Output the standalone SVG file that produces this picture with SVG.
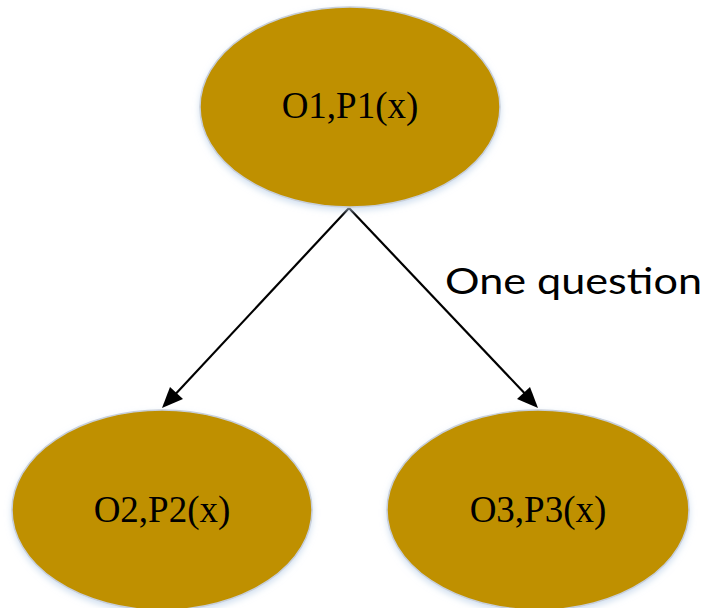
<svg xmlns="http://www.w3.org/2000/svg" width="708" height="608" viewBox="0 0 708 608">
  <style>
    .node ellipse { fill: #BF9000; stroke: #C8CFDA; stroke-width: 1.5; }
    .node text { font-family: "Liberation Serif", "Times New Roman", serif; font-size: 37px; fill: #000; text-anchor: middle; }
    .edge { stroke: #000; stroke-width: 2.2; fill: none; }
    .label { font-family: Lato, "Open Sans", sans-serif; font-size: 37px; fill: #000; }
  </style>
  <defs>
    <filter id="glow" x="-10%" y="-10%" width="120%" height="125%">
      <feGaussianBlur in="SourceAlpha" stdDeviation="3"/>
      <feOffset dy="3" result="b"/>
      <feFlood flood-color="#BFD3EA" flood-opacity="0.7"/>
      <feComposite in2="b" operator="in"/>
      <feMerge><feMergeNode/><feMergeNode in="SourceGraphic"/></feMerge>
    </filter>
  </defs>
  <rect width="708" height="608" fill="#fff"/>

  <g id="connectors">
    <line class="edge" x1="349" y1="208" x2="170" y2="400"/>
    <line class="edge" x1="349" y1="208" x2="531" y2="400"/>
    <polygon points="162,408 170,387 183,399" fill="#000"/>
    <polygon points="538,408 517,399 530,387" fill="#000"/>
    <text class="label" x="445" y="294" textLength="257" lengthAdjust="spacingAndGlyphs">One question</text>
  </g>

  <g id="node-o1" class="node">
    <ellipse cx="350" cy="107" rx="150" ry="100" filter="url(#glow)"/>
    <text x="350" y="118">O1,P1(x)</text>
  </g>
  <g id="node-o2" class="node">
    <ellipse cx="162" cy="510" rx="150" ry="100" filter="url(#glow)"/>
    <text x="162" y="522">O2,P2(x)</text>
  </g>
  <g id="node-o3" class="node">
    <ellipse cx="538" cy="510" rx="151" ry="100" filter="url(#glow)"/>
    <text x="538" y="522">O3,P3(x)</text>
  </g>
</svg>
